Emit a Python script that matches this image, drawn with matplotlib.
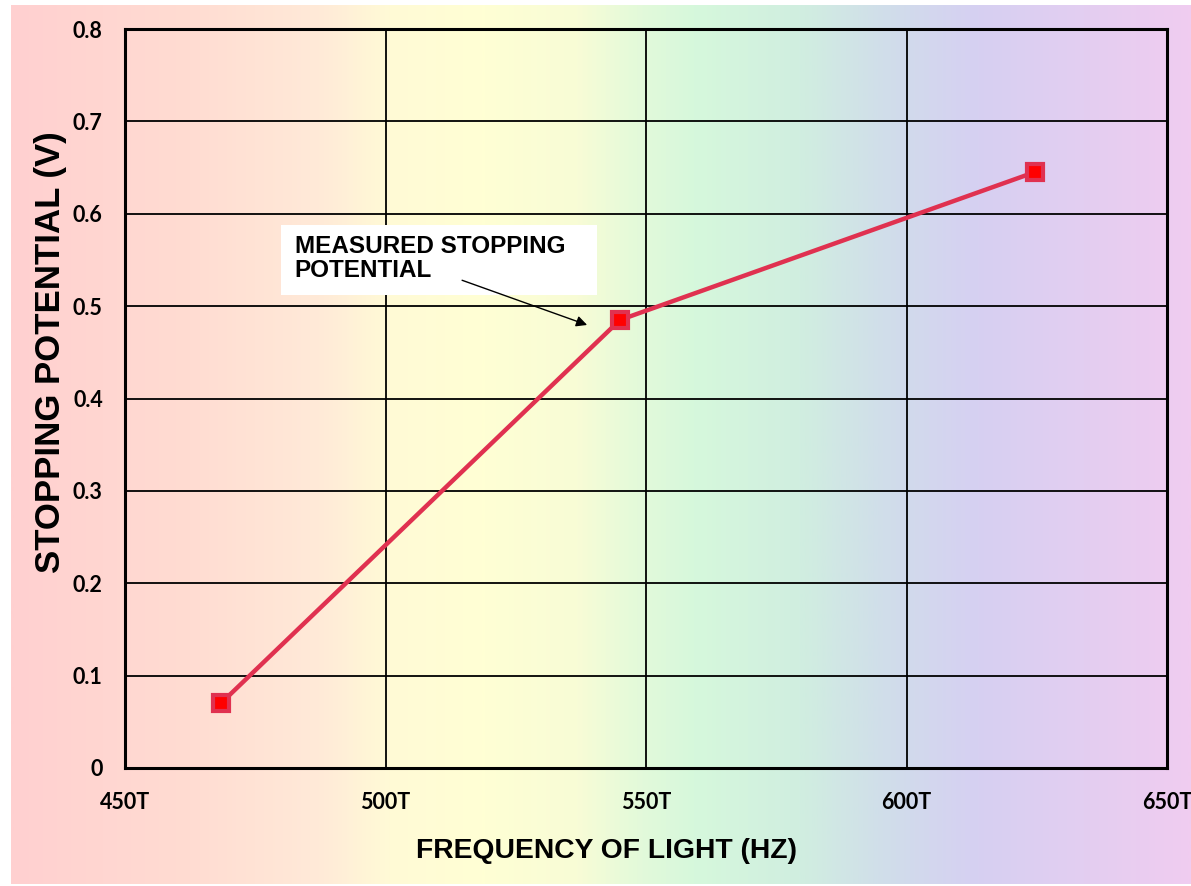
import numpy as np
import matplotlib.pyplot as plt
from matplotlib.colors import LinearSegmentedColormap
from matplotlib.patches import Rectangle
from matplotlib.ticker import FuncFormatter

# measured points (frequency in THz, stopping potential in V)
freq_thz = [468.4, 545.0, 624.6]
stop_v = [0.07, 0.485, 0.645]

x_ticks = [450, 500, 550, 600, 650]
y_ticks = [0, 0.1, 0.2, 0.3, 0.4, 0.5, 0.6, 0.7, 0.8]

# spectrum-like backdrop, left to right
BG_STOPS = [
    (0.00, "#FFD0D0"),
    (0.15, "#FFDCD2"),
    (0.26, "#FFEAD8"),
    (0.32, "#FFFAD6"),
    (0.40, "#FFFFD4"),
    (0.48, "#F8FCD6"),
    (0.53, "#E4FADA"),
    (0.58, "#D6F8DC"),
    (0.67, "#D0EEE0"),
    (0.74, "#D0DEEA"),
    (0.82, "#D6D0F2"),
    (1.00, "#F0CCF0"),
]
LINE_RED = "#E03150"
BOLD_SANS = dict(fontweight="bold", family="Liberation Sans")

W, H = 1191, 886
fig = plt.figure(figsize=(W / 100, H / 100), dpi=100)

bg = fig.add_axes([11 / W, 2 / H, 1180 / W, 879 / H], zorder=0)
cmap = LinearSegmentedColormap.from_list("spectrum", BG_STOPS)
bg.imshow(np.linspace(0, 1, 512)[None, :], aspect="auto", cmap=cmap,
          extent=[0, 1, 0, 1])
bg.axis("off")

ax = fig.add_axes([125 / W, 118 / H, 1042 / W, 739 / H], zorder=1)
ax.set_facecolor("none")

ax.plot(freq_thz, stop_v, color=LINE_RED, lw=3.2, marker="s", ms=11,
        mfc="red", mec=LINE_RED, mew=3, zorder=3, solid_capstyle="round")

ax.set_xlim(450, 650)
ax.set_ylim(0, 0.8)
ax.set_xticks(x_ticks)
ax.set_yticks(y_ticks)
ax.xaxis.set_major_formatter(FuncFormatter(lambda v, p: f"{v:.0f}T"))
ax.yaxis.set_major_formatter(FuncFormatter(lambda v, p: "0" if v == 0 else f"{v:.1f}"))
ax.grid(True, color="black", lw=1.3)
ax.tick_params(length=0, labelsize=15.5)
ax.tick_params(axis="x", pad=17)
ax.tick_params(axis="y", pad=16)
for lab in ax.get_xticklabels() + ax.get_yticklabels():
    lab.set_fontfamily("Lato")
    lab.set_fontweight("bold")
for sp in ax.spines.values():
    sp.set_linewidth(2.2)

# axis titles placed in figure pixels
fig.text(607 / W, 1 - 851 / H, "FREQUENCY OF LIGHT (HZ)", fontsize=20.3,
         ha="center", va="center", **BOLD_SANS)
fig.text(51 / W, 1 - 352 / H, "STOPPING POTENTIAL (V)", fontsize=25,
         rotation=90, ha="center", va="center", **BOLD_SANS)

# callout for the middle point: white box, label, arrow
ax.add_patch(Rectangle((479.9, 0.512), 60.7, 0.0758, fc="white", ec="none",
                       zorder=4))
ax.text(482.6, 0.552, "MEASURED STOPPING\nPOTENTIAL", fontsize=17.5,
        ha="left", va="center", linespacing=1.05, zorder=5, **BOLD_SANS)
ax.annotate("", xy=(538.7, 0.4796), xytext=(514.7, 0.528),
            arrowprops=dict(arrowstyle="-|>", color="black", lw=1.0,
                            mutation_scale=16, shrinkA=0, shrinkB=0),
            zorder=5)

fig.savefig("out.png", dpi=100)
